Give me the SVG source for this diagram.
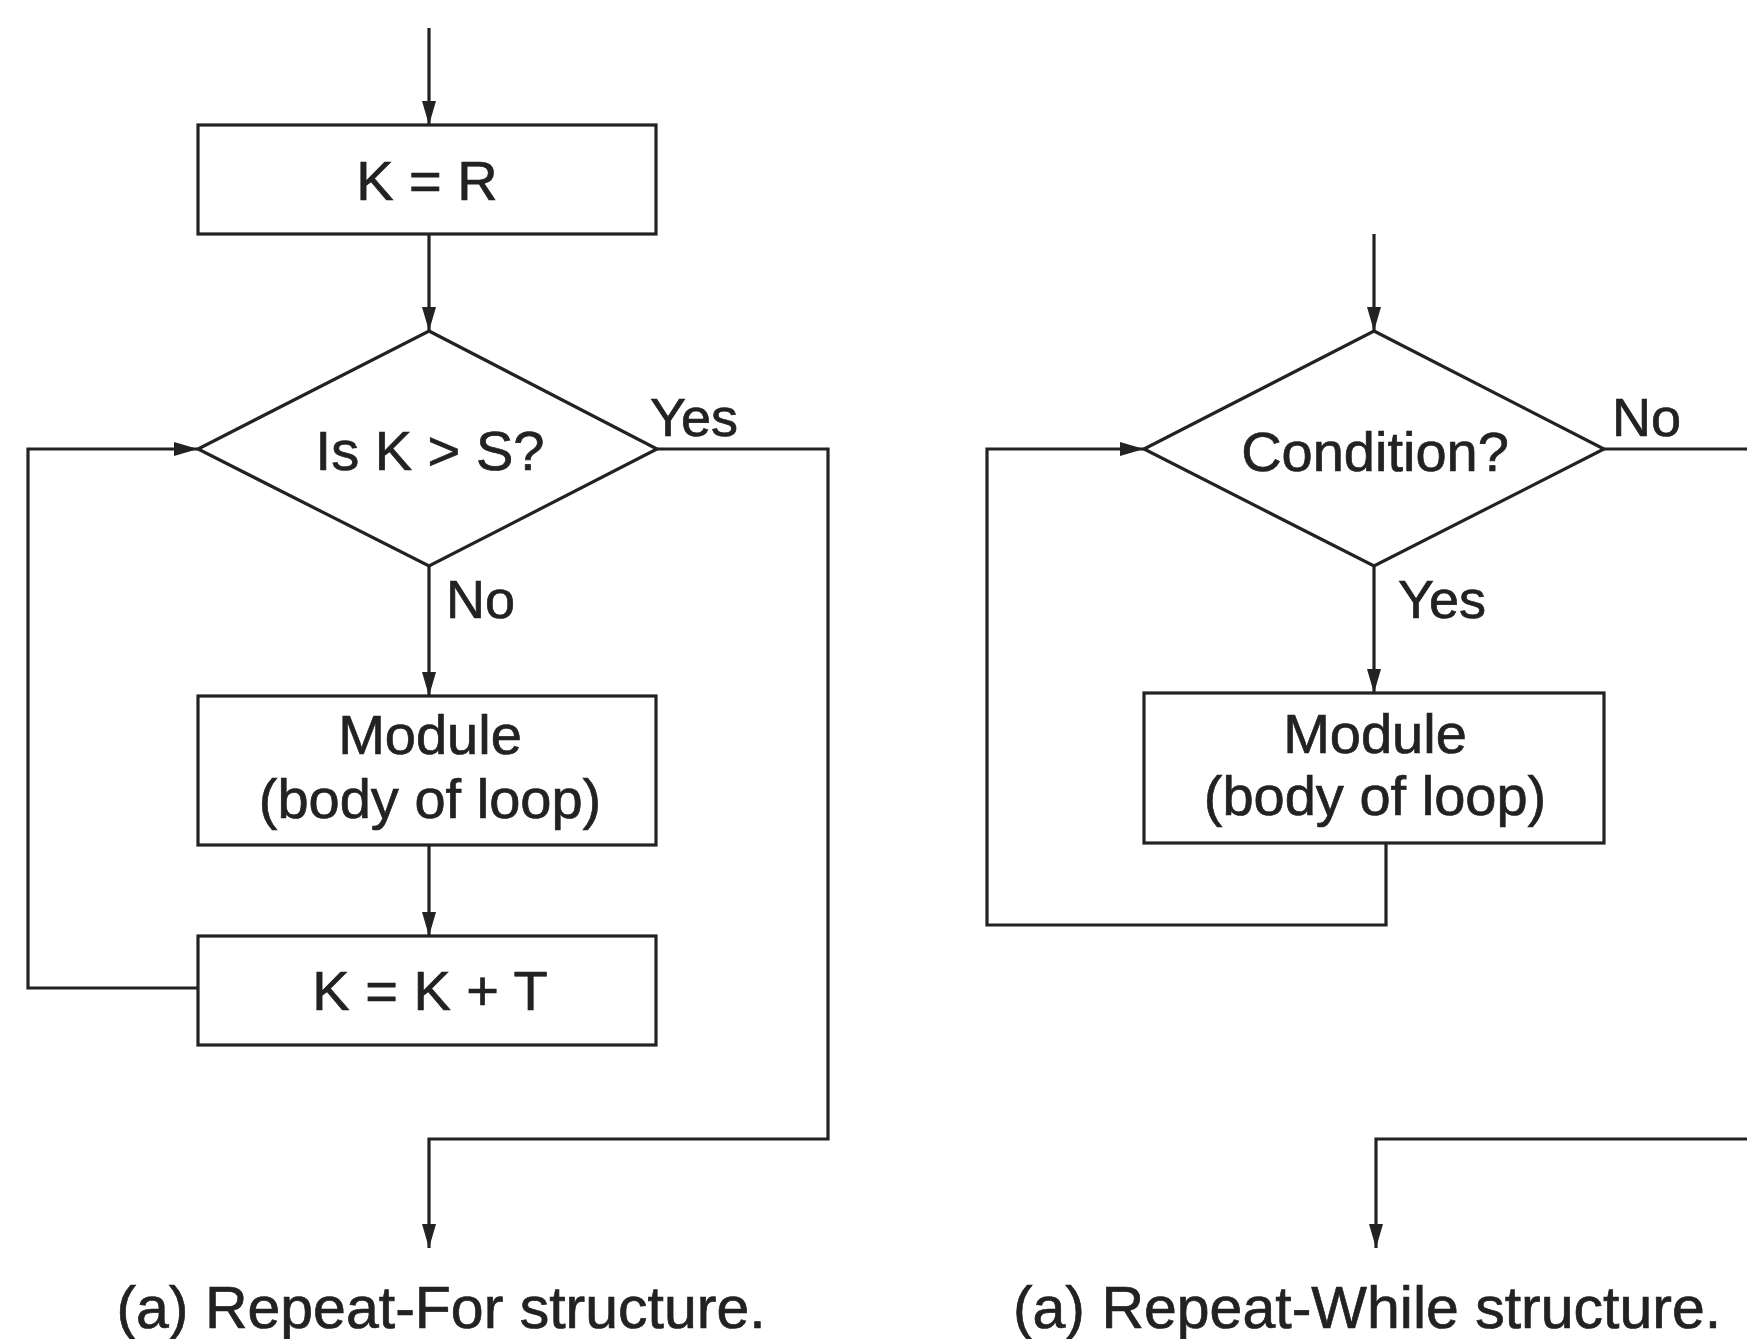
<svg xmlns="http://www.w3.org/2000/svg" width="1747" height="1339" viewBox="0 0 1747 1339">
  <style>
    .shape { fill: #ffffff; stroke: #222222; stroke-width: 3.2; }
    .wire { fill: none; stroke: #222222; stroke-width: 3.2; }
    .arrow { marker-end: url(#head); }
    text { font-family: "Liberation Sans", Arial, sans-serif; fill: #222222; stroke: #222222; stroke-width: 0.7; text-anchor: middle; }
    .node { font-size: 56px; }
    .lbl { font-size: 54px; text-anchor: start; }
    .cap { font-size: 59px; }
  </style>
  <defs>
    <marker id="head" markerWidth="24" markerHeight="14" refX="24" refY="7" orient="auto" markerUnits="userSpaceOnUse" viewBox="0 0 24 14">
      <path d="M0,0 L24,7 L0,14 Z" fill="#222222"/>
    </marker>
  </defs>

  <!-- connectors -->
  <g id="connectors">
    <!-- Repeat-For -->
    <line class="wire arrow" x1="429" y1="28" x2="429" y2="125"/>
    <line class="wire arrow" x1="429" y1="234" x2="429" y2="331"/>
    <line class="wire arrow" x1="429" y1="566" x2="429" y2="696"/>
    <line class="wire arrow" x1="429" y1="845" x2="429" y2="936"/>
    <polyline class="wire arrow" points="198,988 28,988 28,449 198,449"/>
    <polyline class="wire arrow" points="657,449 828,449 828,1139 429,1139 429,1248"/>
    <!-- Repeat-While -->
    <line class="wire arrow" x1="1374" y1="234" x2="1374" y2="331"/>
    <line class="wire arrow" x1="1374" y1="566" x2="1374" y2="693"/>
    <polyline class="wire arrow" points="1386,843 1386,925 987,925 987,449 1144,449"/>
    <line class="wire" x1="1604" y1="449" x2="1747" y2="449"/>
    <polyline class="wire arrow" points="1747,1139 1376,1139 1376,1248"/>
  </g>

  <!-- Repeat-For structure -->
  <g id="init">
    <rect class="shape" x="198" y="125" width="458" height="109"/>
    <text class="node" x="427" y="200" font-size="55">K = R</text>
  </g>
  <g id="test-k">
    <polygon class="shape" points="429,331 657,449 429,566 198,449"/>
    <text class="node" x="430" y="470" font-size="55">Is K &gt; S?</text>
    <text class="lbl" x="650" y="436">Yes</text>
    <text class="lbl" x="446" y="618">No</text>
  </g>
  <g id="body-for">
    <rect class="shape" x="198" y="696" width="458" height="149"/>
    <text class="node" x="430" y="754" font-size="57">Module</text>
    <text class="node" x="430" y="818" font-size="57">(body of loop)</text>
  </g>
  <g id="step">
    <rect class="shape" x="198" y="936" width="458" height="109"/>
    <text class="node" x="430" y="1010" font-size="55">K = K + T</text>
  </g>
  <text class="cap" x="441" y="1328">(a) Repeat-For structure.</text>

  <!-- Repeat-While structure -->
  <g id="test-cond">
    <polygon class="shape" points="1374,331 1604,449 1374,566 1144,449"/>
    <text class="node" x="1375" y="471" font-size="58">Condition?</text>
    <text class="lbl" x="1612" y="436">No</text>
    <text class="lbl" x="1398" y="618">Yes</text>
  </g>
  <g id="body-while">
    <rect class="shape" x="1144" y="693" width="460" height="150"/>
    <text class="node" x="1375" y="753" font-size="57">Module</text>
    <text class="node" x="1375" y="815" font-size="57">(body of loop)</text>
  </g>
  <text class="cap" x="1367" y="1328">(a) Repeat-While structure.</text>
</svg>
